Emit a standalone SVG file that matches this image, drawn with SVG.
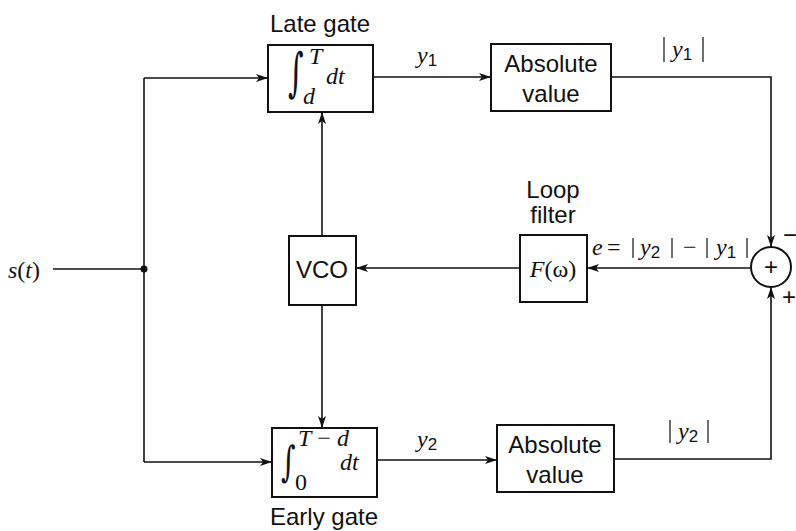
<svg xmlns="http://www.w3.org/2000/svg" width="796" height="531" viewBox="0 0 796 531">
<defs>
<marker id="arr" viewBox="0 0 12 8" refX="12" refY="4" markerWidth="12" markerHeight="8" markerUnits="userSpaceOnUse" orient="auto">
<path d="M0,0 L12,4 L0,8 L3,4 Z" fill="#111"/>
</marker>
</defs>
<style>
.box{fill:#fff;stroke:#111;stroke-width:2}
.ln{fill:none;stroke:#111;stroke-width:1.6}
.bar{fill:none;stroke:#111;stroke-width:1.2}
.sans{font-family:"Liberation Sans",Arial,sans-serif;font-size:24px;fill:#111}
.math{font-family:"Liberation Serif","Times New Roman",serif;font-style:italic;font-size:24px;fill:#111}
.up{font-family:"Liberation Serif","Times New Roman",serif;font-size:24px;fill:#111}
.int{font-family:"DejaVu Serif",serif;font-size:40px;fill:#111}
.sub{font-family:"Liberation Sans",Arial,sans-serif;font-size:17px;font-style:normal}
</style>
<rect width="796" height="531" fill="#fff"/>
<g id="connectors">
<line class="ln" x1="53" y1="269" x2="144" y2="269"/>
<circle cx="144" cy="269" r="3.5" fill="#111"/>
<polyline class="ln" points="144,78 144,462"/>
<line class="ln" x1="144" y1="78" x2="268" y2="78" marker-end="url(#arr)"/>
<line class="ln" x1="144" y1="462" x2="272" y2="462" marker-end="url(#arr)"/>
<line class="ln" x1="373" y1="77" x2="491" y2="77" marker-end="url(#arr)"/>
<line class="ln" x1="377" y1="460" x2="497" y2="460" marker-end="url(#arr)"/>
<polyline class="ln" points="611,77 771,77 771,247" marker-end="url(#arr)"/>
<polyline class="ln" points="614,459 771,459 771,287" marker-end="url(#arr)"/>
<line class="ln" x1="751" y1="268" x2="587" y2="268" marker-end="url(#arr)"/>
<line class="ln" x1="520" y1="268" x2="356" y2="268" marker-end="url(#arr)"/>
<line class="ln" x1="322" y1="236" x2="322" y2="112" marker-end="url(#arr)"/>
<line class="ln" x1="322" y1="305" x2="322" y2="428" marker-end="url(#arr)"/>
</g>
<g id="input">
<text class="math" x="8" y="278" font-size="26">s<tspan font-style="normal">(</tspan>t<tspan font-style="normal">)</tspan></text>
</g>
<g id="late_gate">
<text class="sans" x="320" y="32" text-anchor="middle">Late gate</text>
<rect class="box" x="268" y="45" width="105" height="67"/>
<text class="int" transform="translate(288,90) scale(0.75,1.3)">∫</text>
<text class="math" x="309" y="64" font-size="20">T</text>
<text class="math" x="303" y="104" font-size="20">d</text>
<text class="math" x="326" y="84">dt</text>
</g>
<g id="early_gate">
<rect class="box" x="272" y="428" width="105" height="69"/>
<text class="int" transform="translate(281,476) scale(0.7,1.05)">∫</text>
<text class="math" x="298" y="446" font-size="20">T<tspan font-style="normal"> − </tspan>d</text>
<text class="up" x="295" y="490" font-size="20">0</text>
<text class="math" x="340" y="470">dt</text>
<text class="sans" x="324" y="525" text-anchor="middle">Early gate</text>
</g>
<g id="abs_top">
<rect class="box" x="491" y="44" width="120" height="67"/>
<text class="sans" x="551" y="72" text-anchor="middle">Absolute</text>
<text class="sans" x="551" y="102" text-anchor="middle">value</text>
</g>
<g id="abs_bottom">
<rect class="box" x="497" y="425" width="117" height="67"/>
<text class="sans" x="555" y="453" text-anchor="middle">Absolute</text>
<text class="sans" x="555" y="483" text-anchor="middle">value</text>
</g>
<g id="vco">
<rect class="box" x="289" y="236" width="67" height="69"/>
<text class="sans" x="322" y="278" text-anchor="middle" font-size="23">VCO</text>
</g>
<g id="loop_filter">
<text class="sans" x="553" y="198" text-anchor="middle">Loop</text>
<text class="sans" x="553" y="223" text-anchor="middle">filter</text>
<rect class="box" x="520" y="235" width="67" height="67"/>
<text class="math" x="553" y="277" text-anchor="middle">F<tspan font-style="normal">(ω)</tspan></text>
</g>
<g id="summer">
<circle cx="771" cy="267" r="20" fill="#fff" stroke="#111" stroke-width="2"/>
<text class="sans" x="771" y="275" text-anchor="middle" font-size="22">+</text>
<text class="sans" x="790" y="243" text-anchor="middle" font-size="24">−</text>
<text class="sans" x="789" y="305" text-anchor="middle" font-size="22">+</text>
</g>
<g id="labels">
<text class="math" x="417" y="63">y<tspan class="sub" dy="3">1</tspan></text>
<text class="math" x="417" y="447">y<tspan class="sub" dy="3">2</tspan></text>
<line class="bar" x1="664" y1="37" x2="664" y2="62"/>
<line class="bar" x1="703" y1="37" x2="703" y2="62"/>
<text class="math" x="672" y="57">y<tspan class="sub" dy="3">1</tspan></text>
<line class="bar" x1="670" y1="420" x2="670" y2="443"/>
<line class="bar" x1="708" y1="420" x2="708" y2="443"/>
<text class="math" x="678" y="439">y<tspan class="sub" dy="3">2</tspan></text>
<text class="math" x="592" y="255">e</text>
<text class="up" x="607" y="255">=</text>
<line class="bar" x1="633" y1="238" x2="633" y2="258"/>
<text class="math" x="640" y="255">y<tspan class="sub" dy="3">2</tspan></text>
<line class="bar" x1="672" y1="238" x2="672" y2="258"/>
<text class="up" x="683" y="255">−</text>
<line class="bar" x1="707" y1="238" x2="707" y2="258"/>
<text class="math" x="716" y="255">y<tspan class="sub" dy="3">1</tspan></text>
<line class="bar" x1="747" y1="238" x2="747" y2="258"/>
</g>
</svg>
